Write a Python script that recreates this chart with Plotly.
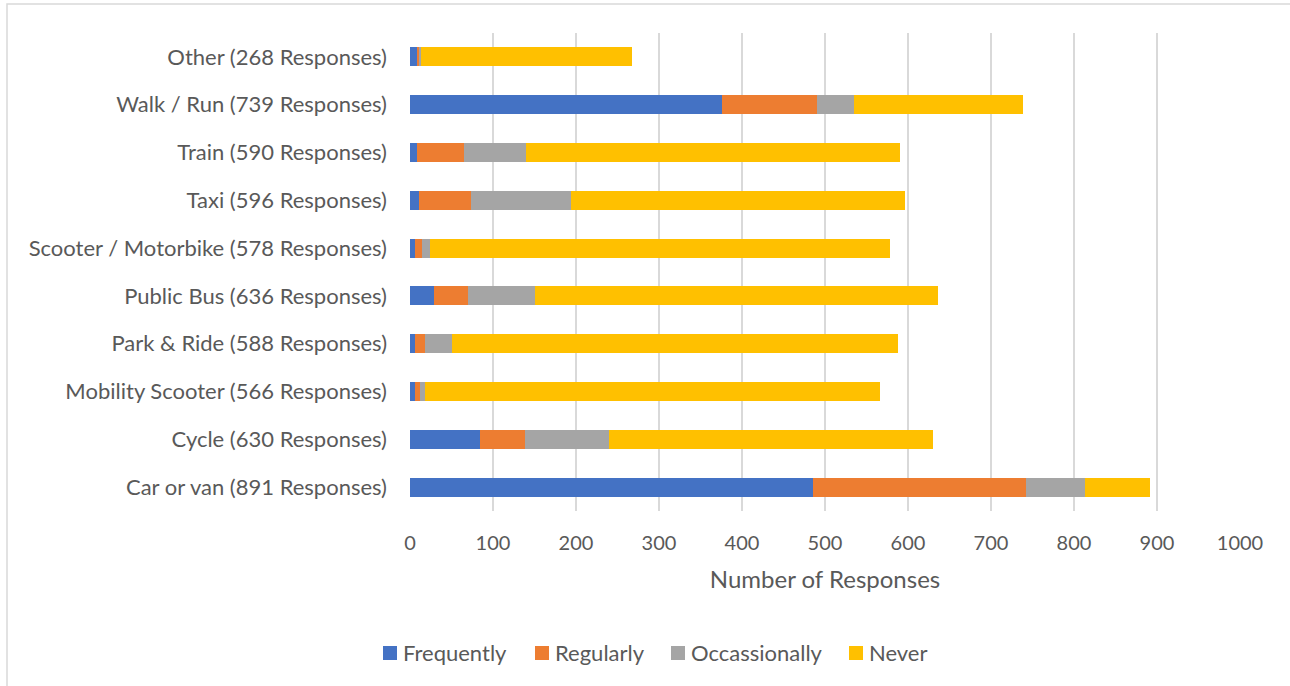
import plotly.graph_objects as go

# Modes of transport, listed bottom to top
categories = [
    "Car or van (891 Responses)",
    "Cycle (630 Responses)",
    "Mobility Scooter (566 Responses)",
    "Park & Ride (588 Responses)",
    "Public Bus (636 Responses)",
    "Scooter / Motorbike (578 Responses)",
    "Taxi (596 Responses)",
    "Train (590 Responses)",
    "Walk / Run (739 Responses)",
    "Other (268 Responses)",
]

frequently = [485, 84, 6, 6, 29, 6, 11, 8, 376, 9]
regularly = [257, 54, 6, 12, 41, 9, 62, 57, 114, 2]
occasionally = [71, 102, 6, 32, 80, 9, 121, 75, 45, 2]
never = [78, 390, 548, 538, 486, 554, 402, 450, 204, 255]

series_names = ["Frequently", "Regularly", "Occassionally", "Never"]
series_values = [frequently, regularly, occasionally, never]
series_colors = ["#4472C4", "#ED7D31", "#A5A5A5", "#FFC000"]

fig = go.Figure()
for name, vals, color in zip(series_names, series_values, series_colors):
    fig.add_trace(go.Bar(
        y=categories, x=vals, name=name, orientation="h",
        marker=dict(color=color, line=dict(width=0)),
        showlegend=False,
    ))

W, H = 1290, 686
L, R, T, B = 410, 50, 33, 175
pw, ph = W - L - R, H - T - B

def px_x(x):
    return (x - L) / pw

def px_y(y):
    return (H - B - y) / ph

font_family = "Lato, Open Sans, sans-serif"
text_color = "#595959"

shapes = [dict(
    type="rect", xref="paper", yref="paper",
    x0=px_x(7), x1=px_x(1296), y0=px_y(4), y1=px_y(692),
    line=dict(color="#d9d9d9", width=1.5), fillcolor="rgba(0,0,0,0)",
    layer="below",
)]
annotations = []

# Legend row: colour key squares followed by their labels
legend_left = [383, 535, 671, 849]
legend_cy = 652
for name, color, x in zip(series_names, series_colors, legend_left):
    shapes.append(dict(
        type="rect", xref="paper", yref="paper",
        x0=px_x(x), x1=px_x(x + 14), y0=px_y(legend_cy + 8), y1=px_y(legend_cy - 6),
        line=dict(width=0), fillcolor=color,
    ))
    annotations.append(dict(
        xref="paper", yref="paper", x=px_x(x + 18), y=px_y(legend_cy),
        xanchor="left", yanchor="middle", text=name, showarrow=False,
        font=dict(family=font_family, size=22, color=text_color),
    ))

fig.update_layout(
    width=W, height=H,
    margin=dict(l=L, r=R, t=T, b=B, pad=0),
    barmode="stack",
    bargap=0.6,
    plot_bgcolor="white",
    paper_bgcolor="white",
    font=dict(family=font_family, size=20, color=text_color),
    showlegend=False,
    shapes=shapes,
    annotations=annotations,
)

fig.update_xaxes(
    range=[0, 1000], dtick=100, tick0=0,
    showgrid=True, gridcolor="#d9d9d9", gridwidth=1.5,
    zeroline=False, showline=False, ticks="",
    ticklabelstandoff=18,
    tickfont=dict(size=20, color=text_color),
    title=dict(text="Number of Responses", standoff=18,
               font=dict(size=24, color=text_color)),
)
fig.update_yaxes(
    showgrid=False, zeroline=False, showline=False, ticks="",
    ticklabelstandoff=22,
    tickfont=dict(size=22, color=text_color),
    range=[-0.5, 9.5],
)

fig.write_html("out.html")
